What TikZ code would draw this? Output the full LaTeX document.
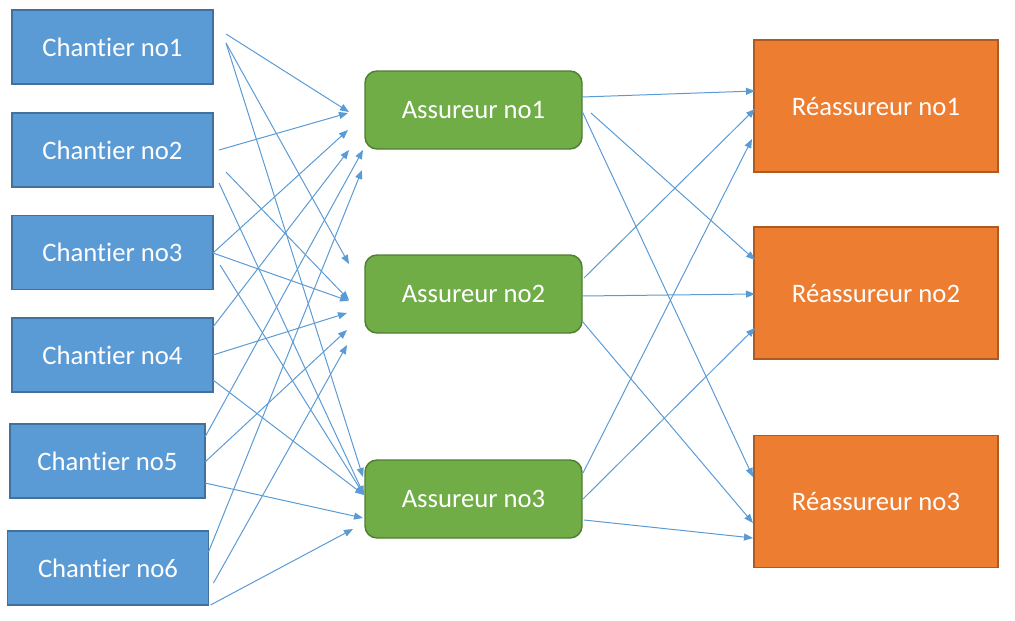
\documentclass[tikz,border=0pt]{standalone}
\usepackage{fontspec}
\setmainfont{Carlito}[Ligatures={NoCommon}]
\usetikzlibrary{arrows.meta}

\definecolor{chantierfill}{HTML}{5B9BD5}
\definecolor{chantierline}{HTML}{41719C}
\definecolor{assurfill}{HTML}{70AD47}
\definecolor{assurline}{HTML}{507E32}
\definecolor{reassurfill}{HTML}{ED7D31}
\definecolor{reassurline}{HTML}{AE5A21}

\tikzset{
	chantier/.style={draw=chantierline, fill=chantierfill, line width=1.1pt, text=white, inner sep=0pt, outer sep=0pt, minimum width=150.75pt, minimum height=55.5pt},
	assureur/.style={draw=assurline, fill=assurfill, line width=1.1pt, text=white, rounded corners=9pt, inner sep=0pt, outer sep=0pt, minimum width=162.75pt, minimum height=58.5pt},
	reassureur/.style={draw=reassurline, fill=reassurfill, line width=1.1pt, text=white, inner sep=0pt, outer sep=0pt, minimum width=183pt, minimum height=99pt},
	lien/.style={draw=chantierfill, line width=0.75pt, -{Triangle[length=6.75pt,width=5.25pt]}}
}

\begin{document}
\begin{tikzpicture}[x=0.75pt, y=-0.75pt, font=\fontsize{20pt}{24pt}\selectfont]
		\useasboundingbox (0,0) rectangle (1015,621);
		%Chantiers
		\node[chantier] (c1) at (112.5,47) {Chantier no1};
		\node[chantier] (c2) at (112.5,150) {Chantier no2};
		\node[chantier] (c3) at (112.5,252.5) {Chantier no3};
		\node[chantier] (c4) at (112.5,355) {Chantier no4};
		\node[chantier, minimum width=146.25pt] (c5) at (107.5,461) {Chantier no5};
		\node[chantier] (c6) at (108,568) {Chantier no6};
		%Assureurs
		\node[assureur] (a1) at (473.5,110) {Assureur no1};
		\node[assureur] (a2) at (473.5,294) {Assureur no2};
		\node[assureur] (a3) at (473.5,499) {Assureur no3};
		%Reassureurs
		\node[reassureur] (r1) at (876,106) {Réassureur no1};
		\node[reassureur] (r2) at (876,293) {Réassureur no2};
		\node[reassureur] (r3) at (876,501.5) {Réassureur no3};

		%Chantier no1
		\draw[lien] ([shift={(13,-13)}]c1.east) -- ([shift={(-16,2)}]a1.west);
		\draw[lien] ([shift={(13,-4)}]c1.east) -- ([shift={(-16,-30)}]a2.west);
		\draw[lien] ([shift={(13,-4)}]c1.east) -- ([shift={(-2,-22)}]a3.west);
		%Chantier no2
		\draw[lien] ([shift={(6,0)}]c2.east) -- ([shift={(-17,3)}]a1.west);
		\draw[lien] ([shift={(13,22)}]c2.east) -- ([shift={(-16,6)}]a2.west);
		\draw[lien] ([shift={(6,33)}]c2.east) -- ([shift={(-1,-4)}]a3.west);
		%Chantier no3
		\draw[lien] ([shift={(0,0.5)}]c3.east) -- ([shift={(-17,20)}]a1.west);
		\draw[lien] ([shift={(0,0.5)}]c3.east) -- ([shift={(-16,7)}]a2.west);
		\draw[lien] ([shift={(7,12.5)}]c3.east) -- ([shift={(-1,-4)}]a3.west);
		%Chantier no4
		\draw[lien] ([shift={(0,-28)}]c4.east) -- ([shift={(-16,40)}]a1.west);
		\draw[lien] (c4.east) -- ([shift={(-18,19)}]a2.west);
		\draw[lien] ([shift={(0,25)}]c4.east) -- ([shift={(-1,-4)}]a3.west);
		%Chantier no5
		\draw[lien] ([shift={(0,-24)}]c5.east) -- ([shift={(-2,40)}]a1.west);
		\draw[lien] ([shift={(0,1)}]c5.east) -- ([shift={(-18,36)}]a2.west);
		\draw[lien] ([shift={(0,22)}]c5.east) -- ([shift={(-2,19)}]a3.west);
		%Chantier no6
		\draw[lien] ([shift={(0,-16)}]c6.east) -- ([shift={(-3,60)}]a1.west);
		\draw[lien] ([shift={(5,15)}]c6.east) -- ([shift={(-18,51)}]a2.west);
		\draw[lien] ([shift={(2,37)}]c6.east) -- ([shift={(-12,30)}]a3.west);

		%Assureur no1
		\draw[lien] ([shift={(0,-13)}]a1.east) -- ([shift={(1,-15)}]r1.west);
		\draw[lien] ([shift={(9,3)}]a1.east) -- ([shift={(1,-33)}]r2.west);
		\draw[lien] ([shift={(0,1)}]a1.east) -- ([shift={(-1,-24.5)}]r3.west);
		%Assureur no2
		\draw[lien] ([shift={(2,-16)}]a2.east) -- ([shift={(1,3)}]r1.west);
		\draw[lien] ([shift={(0,2)}]a2.east) -- ([shift={(1,1)}]r2.west);
		\draw[lien] ([shift={(0,27)}]a2.east) -- ([shift={(-1,21.5)}]r3.west);
		%Assureur no3
		\draw[lien] ([shift={(1,-26)}]a3.east) -- ([shift={(-2,33)}]r1.west);
		\draw[lien] ([shift={(1,0)}]a3.east) -- ([shift={(1,35)}]r2.west);
		\draw[lien] ([shift={(2,21)}]a3.east) -- ([shift={(-1,36.5)}]r3.west);
	\end{tikzpicture}
\end{document}
